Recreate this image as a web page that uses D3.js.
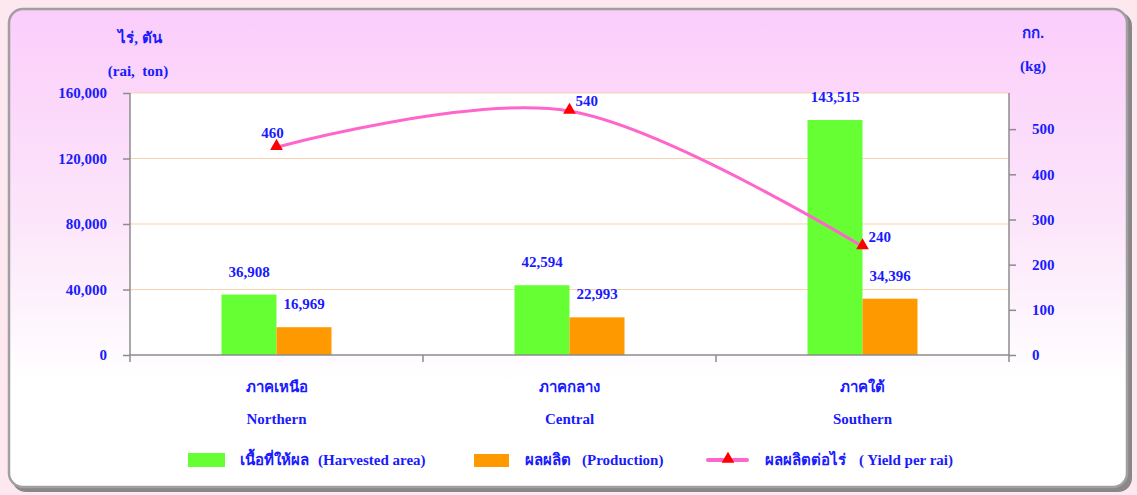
<!DOCTYPE html>
<html>
<head>
<meta charset="utf-8">
<script src="https://cdn.jsdelivr.net/npm/d3@7"></script>
<style>
  body { margin: 0; background: #fde8ef; }
  svg text { font-family: "Liberation Serif", "Times New Roman", serif; font-weight: bold; fill: #1a1aff; }
</style>
</head>
<body>
<div class="graph"></div>
<script>
// data
const regionsThai = ["ภาคเหนือ", "ภาคกลาง", "ภาคใต้"];
const regionsEng = ["Northern", "Central", "Southern"];
const harvestedArea = [36908, 42594, 143515];
const production = [16969, 22993, 34396];
const yieldPerRai = [460, 540, 240];
const leftTicks = [0, 40000, 80000, 120000, 160000];
const rightTicks = [0, 100, 200, 300, 400, 500];

const W = 1137, H = 495;
const fmt = d3.format(",");

const svg = d3.select(".graph").append("svg").attr("width", W).attr("height", H);
const defs = svg.append("defs");

const grad = defs.append("linearGradient").attr("id", "bg").attr("x1", 0).attr("y1", 0).attr("x2", 0).attr("y2", 1);
grad.append("stop").attr("offset", "0").attr("stop-color", "#fbcdfb");
grad.append("stop").attr("offset", "0.45").attr("stop-color", "#fce6fa");
grad.append("stop").attr("offset", "0.78").attr("stop-color", "#ffffff");
grad.append("stop").attr("offset", "1").attr("stop-color", "#ffffff");

// frame with shadow
svg.append("rect").attr("x", 12).attr("y", 12).attr("width", 1120).attr("height", 480)
    .attr("rx", 14).attr("fill", "#6e6e6e").attr("opacity", 0.8);
svg.append("rect").attr("x", 9).attr("y", 9).attr("width", 1118).attr("height", 478)
    .attr("rx", 14).attr("fill", "url(#bg)").attr("stroke", "#a0a0a0").attr("stroke-width", 2.5);

const pLeft = 130, pRight = 1009, pTop = 93, pBottom = 355;

svg.append("rect").attr("x", pLeft).attr("y", pTop).attr("width", pRight - pLeft).attr("height", pBottom - pTop)
    .attr("fill", "#ffffff");

const x = d3.scaleBand().domain(regionsEng).range([pLeft, pRight]);
const xSub = d3.scaleBand().domain(["area", "prod"]).range([-55, 55]);
const yL = d3.scaleLinear().domain([0, 160000]).range([pBottom, pTop]);
const yR = d3.scaleLinear().domain([0, 580]).range([pBottom, pTop]);
const cx = (i) => x(regionsEng[i]) + x.bandwidth() / 2;

// gridlines
svg.append("g").selectAll("line").data(leftTicks.slice(1)).join("line")
    .attr("x1", pLeft).attr("x2", pRight)
    .attr("y1", d => yL(d)).attr("y2", d => yL(d))
    .attr("stroke", "#f8d2ac").attr("stroke-width", 1.2);

// bars
const bars = svg.append("g");
bars.selectAll(".area").data(harvestedArea).join("rect")
    .attr("class", "area")
    .attr("x", (d, i) => cx(i) + xSub("area"))
    .attr("width", xSub.bandwidth())
    .attr("y", d => yL(d))
    .attr("height", d => pBottom - yL(d))
    .attr("fill", "#66ff33");
bars.selectAll(".prod").data(production).join("rect")
    .attr("class", "prod")
    .attr("x", (d, i) => cx(i) + xSub("prod"))
    .attr("width", xSub.bandwidth())
    .attr("y", d => yL(d))
    .attr("height", d => pBottom - yL(d))
    .attr("fill", "#ff9900");

// bar labels
bars.selectAll(".alab").data(harvestedArea).join("text")
    .attr("class", "alab")
    .attr("x", (d, i) => cx(i) + xSub("area") + xSub.bandwidth() / 2)
    .attr("y", d => yL(d) - 18)
    .attr("text-anchor", "middle").style("font-size", "15px")
    .text(d => fmt(d));
bars.selectAll(".plab").data(production).join("text")
    .attr("class", "plab")
    .attr("x", (d, i) => cx(i) + xSub("prod") + xSub.bandwidth() / 2)
    .attr("y", d => yL(d) - 18)
    .attr("text-anchor", "middle").style("font-size", "15px")
    .text(d => fmt(d));

// axes
const axisL = d3.axisLeft(yL).tickValues(leftTicks).tickFormat(fmt).tickSize(7).tickPadding(16);
const gL = svg.append("g").attr("transform", `translate(${pLeft},0)`).call(axisL);
const axisR = d3.axisRight(yR).tickValues(rightTicks).tickSize(7).tickPadding(16);
const gR = svg.append("g").attr("transform", `translate(${pRight},0)`).call(axisR);
[gL, gR].forEach(g => {
    g.select(".domain").attr("stroke", "#8c8c8c").attr("stroke-width", 1.5).attr("d", `M0,${pTop}V${pBottom}`);
    g.selectAll(".tick line").attr("stroke", "#8c8c8c").attr("stroke-width", 1.5);
    g.selectAll("text").style("font-size", "15px").style("font-family", "Liberation Serif")
        .attr("fill", "#1a1aff");
});

const gB = svg.append("g").attr("transform", `translate(0,${pBottom})`);
gB.append("path").attr("d", `M${pLeft},0H${pRight}`).attr("stroke", "#8c8c8c").attr("stroke-width", 1.5);
gB.selectAll(".sep").data(d3.range(regionsEng.length + 1)).join("line")
    .attr("class", "sep")
    .attr("x1", i => pLeft + i * x.step()).attr("x2", i => pLeft + i * x.step())
    .attr("y1", 0).attr("y2", 7)
    .attr("stroke", "#8c8c8c").attr("stroke-width", 1.5);

// category labels
svg.append("g").selectAll("text").data(regionsThai).join("text")
    .attr("x", (d, i) => cx(i)).attr("y", 392)
    .attr("text-anchor", "middle").style("font-size", "15px").text(d => d);
svg.append("g").selectAll("text").data(regionsEng).join("text")
    .attr("x", (d, i) => cx(i)).attr("y", 424)
    .attr("text-anchor", "middle").style("font-size", "15px").text(d => d);

// yield line
const linePts = yieldPerRai.map((d, i) => [cx(i), yR(d)]);
svg.append("path")
    .attr("d", d3.line().curve(d3.curveCardinal)(linePts))
    .attr("fill", "none").attr("stroke", "#ff66cc").attr("stroke-width", 3);

const tri = d3.symbol().type(d3.symbolTriangle).size(70);
svg.append("g").selectAll("path").data(linePts).join("path")
    .attr("d", tri)
    .attr("transform", d => `translate(${d[0]},${d[1] - 1})`)
    .attr("fill", "#ff0000");

svg.append("g").selectAll("text").data(yieldPerRai).join("text")
    .attr("x", (d, i) => i === 0 ? cx(i) - 4 : cx(i) + 6)
    .attr("y", (d, i) => i === 0 ? yR(d) - 9 : yR(d) - 5)
    .attr("text-anchor", (d, i) => i === 0 ? "middle" : "start")
    .style("font-size", "15px").text(d => d);

// axis titles
svg.append("text").attr("x", 140).attr("y", 43).attr("text-anchor", "middle").style("font-size", "15px").text("ไร่, ตัน");
svg.append("text").attr("x", 138).attr("y", 76).attr("text-anchor", "middle").style("font-size", "15px").style("white-space", "pre").text("(rai,  ton)");
svg.append("text").attr("x", 1033).attr("y", 38).attr("text-anchor", "middle").style("font-size", "15px").text("กก.");
svg.append("text").attr("x", 1033).attr("y", 71).attr("text-anchor", "middle").style("font-size", "15px").text("(kg)");

// legend
const lg = svg.append("g");
lg.append("rect").attr("x", 188).attr("y", 453).attr("width", 37).attr("height", 14).attr("fill", "#66ff33");
lg.append("text").attr("x", 240).attr("y", 465).style("font-size", "15px").text("เนื้อที่ให้ผล");
lg.append("text").attr("x", 318).attr("y", 465).style("font-size", "15px").text("(Harvested area)");
lg.append("rect").attr("x", 474).attr("y", 454).attr("width", 35).attr("height", 13).attr("fill", "#ff9900");
lg.append("text").attr("x", 525).attr("y", 465).style("font-size", "15px").text("ผลผลิต");
lg.append("text").attr("x", 582).attr("y", 465).style("font-size", "15px").text("(Production)");
lg.append("line").attr("x1", 708).attr("x2", 747).attr("y1", 460).attr("y2", 460)
    .attr("stroke", "#ff66cc").attr("stroke-width", 4).attr("stroke-linecap", "round");
lg.append("path").attr("d", tri).attr("transform", "translate(728,459)").attr("fill", "#ff0000");
lg.append("text").attr("x", 765).attr("y", 465).style("font-size", "15px").text("ผลผลิตต่อไร่");
lg.append("text").attr("x", 859).attr("y", 465).style("font-size", "15px").text("( Yield per rai)");
</script>
</body>
</html>
